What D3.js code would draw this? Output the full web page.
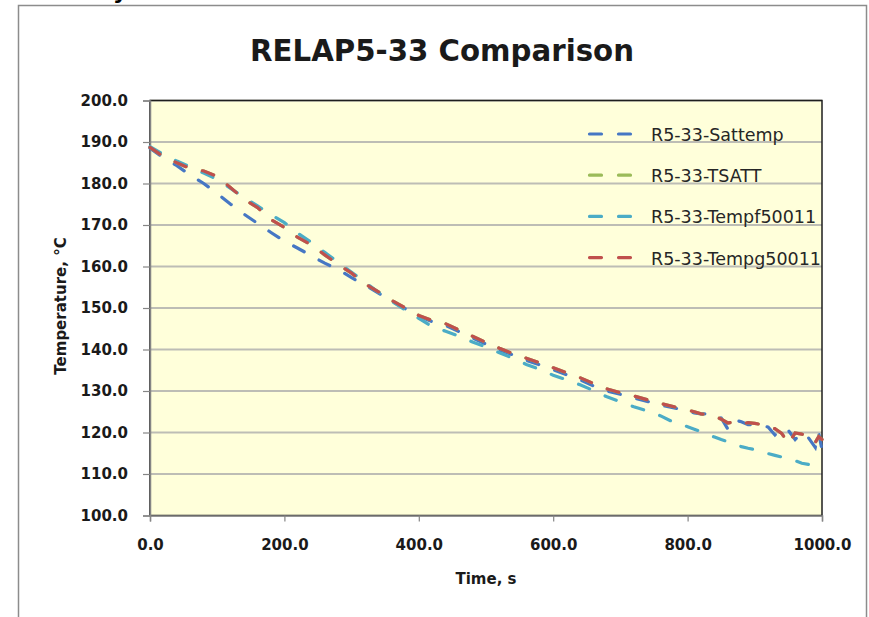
<!DOCTYPE html>
<html>
<head>
<meta charset="utf-8">
<script src="https://cdn.jsdelivr.net/npm/d3@7"></script>
<style>
  body { margin: 0; background: #fff; }
  svg { display: block; }
</style>
</head>
<body>
<div id="chart"></div>
<script>
// time points (s)
var time = [0, 20, 40, 60, 80, 100, 120, 140, 160, 180, 200, 220, 240, 260, 280, 300,
    320, 340, 360, 380, 400, 420, 440, 460, 480, 500, 520, 540, 560, 580, 600,
    620, 640, 660, 680, 700, 720, 740, 760, 780, 800,
    810, 820, 830, 840, 850, 860, 870, 880, 890, 900, 910, 920, 930, 940, 950,
    960, 970, 980, 990, 995, 1000];

var sattemp = [188.5, 186.2, 184.3, 182.0, 180.0, 177.6, 175.0, 172.6, 170.4, 168.2, 166.1,
    164.4, 162.6, 160.8, 159.3, 157.3, 155.5, 153.6, 151.6, 149.8, 148.0,
    146.7, 145.8, 144.3, 142.8, 141.3, 139.9, 138.7, 137.4, 136.3, 135.1,
    133.9, 132.7, 131.2, 130.0, 129.2, 128.3, 127.5, 126.6, 125.9, 125.3,
    124.7, 124.5, 124.5, 124.3, 123.5, 120.8, 123.0, 122.6, 121.9, 121.8,
    121.7, 121.3, 119.4, 121.0, 120.5, 118.3, 120.0, 118.7, 116.4, 120.0, 115.8];

var tempg = [188.7, 186.5, 185.0, 183.6, 183.0, 181.7, 179.0, 176.2, 174.2, 171.3, 169.4,
    167.0, 165.2, 162.8, 160.5, 158.4, 155.8, 153.9, 151.8, 150.0, 148.2,
    147.0, 146.2, 144.7, 143.2, 141.7, 140.3, 139.0, 137.9, 136.8, 135.6,
    134.4, 133.2, 131.8, 130.5, 129.6, 128.8, 127.9, 127.0, 126.2, 125.4,
    125.0, 124.5, 124.3, 124.0, 123.2, 122.3, 122.6, 122.0, 122.4, 122.2,
    121.9, 121.4, 120.9, 119.8, 117.3, 119.9, 119.6, 119.3, 117.6, 119.0, 118.3];

// hidden below Tempg in the picture
var tsatt = tempg.slice();

var tempf = [188.9, 187.0, 185.4, 184.0, 182.5, 181.0, 178.8, 176.6, 174.6, 172.5, 170.6,
    168.0, 165.8, 163.4, 161.0, 158.6, 156.2, 153.8, 151.6, 149.5, 147.5,
    145.5, 144.4, 143.2, 141.8, 140.6, 139.2, 137.9, 136.4, 135.2, 133.8,
    132.7, 131.5, 130.1, 128.6, 127.4, 126.2, 125.2, 124.0, 122.4, 121.4,
    120.8, 120.2, 119.5, 118.9, 118.3, 117.8, 117.2, 116.6, 116.2, 115.9,
    115.4, 114.9, 114.5, 114.1, 113.7, 113.2, 112.6, 112.3, 111.9, 111.7, 111.4];

var seriesNames = ["R5-33-Sattemp", "R5-33-TSATT", "R5-33-Tempf50011", "R5-33-Tempg50011"];
var seriesValues = [sattemp, tsatt, tempf, tempg];
var seriesColors = ["#4677C4", "#9BBB59", "#4BACC6", "#C0504D"];

var xTicks = [0, 200, 400, 600, 800, 1000];
var yTicks = [100, 110, 120, 130, 140, 150, 160, 170, 180, 190, 200];

var W = 869, H = 617;
var plotL = 150, plotR = 822, plotT = 100.5, plotB = 515.5;

var svg = d3.select("#chart").append("svg")
    .attr("width", W)
    .attr("height", H);

// outer chart frame
svg.append("rect")
    .attr("x", 18.5).attr("y", 5.5)
    .attr("width", 848).attr("height", 700)
    .attr("fill", "#fff")
    .attr("stroke", "#8c8c8c")
    .attr("stroke-width", 1.5);

// cut-off letter above the frame (only its tail shows)
svg.append("text")
    .attr("x", 113).attr("y", -1)
    .attr("font-family", "DejaVu Sans")
    .attr("font-weight", "bold")
    .attr("font-size", 22)
    .text("y");

var x = d3.scaleLinear().domain([0, 1000]).range([plotL, plotR]);
var y = d3.scaleLinear().domain([100, 200]).range([plotB, plotT]);

// plot area
svg.append("rect")
    .attr("x", plotL).attr("y", plotT)
    .attr("width", plotR - plotL).attr("height", plotB - plotT)
    .attr("fill", "#FFFFDA");

// gridlines
svg.append("g").selectAll("line")
    .data(yTicks.slice(1))
    .enter().append("line")
    .attr("x1", plotL).attr("x2", plotR)
    .attr("y1", d => y(d)).attr("y2", d => y(d))
    .attr("stroke", "#BDBDB5")
    .attr("stroke-width", 1.8);

// plot border
svg.append("rect")
    .attr("x", plotL).attr("y", plotT)
    .attr("width", plotR - plotL).attr("height", plotB - plotT)
    .attr("fill", "none")
    .attr("stroke", "#1e1e1e")
    .attr("stroke-width", 1.5);

// axes
var yAxis = svg.append("g")
    .attr("transform", "translate(" + plotL + ",0)")
    .call(d3.axisLeft(y).tickValues(yTicks).tickSize(7).tickFormat(d3.format(".1f")));
var xAxis = svg.append("g")
    .attr("transform", "translate(0," + plotB + ")")
    .call(d3.axisBottom(x).tickValues(xTicks).tickSize(6).tickFormat(d3.format(".1f")));

[yAxis, xAxis].forEach(function (ax) {
    ax.select(".domain").attr("stroke", "#858585").attr("stroke-width", 1.5);
    ax.selectAll(".tick line").attr("stroke", "#858585").attr("stroke-width", 1.2);
    ax.selectAll(".tick text")
        .attr("font-family", "DejaVu Sans")
        .attr("font-weight", "bold")
        .attr("font-size", 15)
        .attr("fill", "#1a1a1a");
});
yAxis.selectAll(".tick text").attr("x", -22);
xAxis.selectAll(".tick text").attr("y", 24);

// lines
var line = d3.line()
    .x((d, i) => x(time[i]))
    .y(d => y(d));

svg.append("g").selectAll("path")
    .data(seriesValues)
    .enter().append("path")
    .attr("d", d => line(d))
    .attr("fill", "none")
    .attr("stroke", (d, i) => seriesColors[i])
    .attr("stroke-width", 3.2)
    .attr("stroke-linecap", "round")
    .attr("stroke-dasharray", "12,17");

// title
svg.append("text")
    .attr("x", 442).attr("y", 61)
    .attr("text-anchor", "middle")
    .attr("font-family", "DejaVu Sans")
    .attr("font-weight", "bold")
    .attr("font-size", 30)
    .attr("textLength", 384)
    .attr("lengthAdjust", "spacingAndGlyphs")
    .attr("fill", "#1a1a1a")
    .text("RELAP5-33 Comparison");

// axis titles
svg.append("text")
    .attr("transform", "translate(66,306) rotate(-90)")
    .attr("text-anchor", "middle")
    .attr("font-family", "DejaVu Sans")
    .attr("font-weight", "bold")
    .attr("font-size", 15)
    .attr("fill", "#1a1a1a")
    .text("Temperature, °C");

svg.append("text")
    .attr("x", 486).attr("y", 584)
    .attr("text-anchor", "middle")
    .attr("font-family", "DejaVu Sans")
    .attr("font-weight", "bold")
    .attr("font-size", 15)
    .attr("fill", "#1a1a1a")
    .text("Time, s");

// legend
var legend = svg.append("g").selectAll("g")
    .data(seriesNames)
    .enter().append("g")
    .attr("transform", (d, i) => "translate(0," + (134 + i * 41.2) + ")");

legend.append("line")
    .attr("x1", 589.5).attr("x2", 631.5)
    .attr("y1", 0).attr("y2", 0)
    .attr("stroke", (d, i) => seriesColors[i])
    .attr("stroke-width", 3.2)
    .attr("stroke-linecap", "round")
    .attr("stroke-dasharray", "12,17");

legend.append("text")
    .attr("x", 651).attr("y", 7)
    .attr("font-family", "DejaVu Sans")
    .attr("font-size", 17.5)
    .attr("fill", "#262626")
    .text(d => d);
</script>
</body>
</html>
